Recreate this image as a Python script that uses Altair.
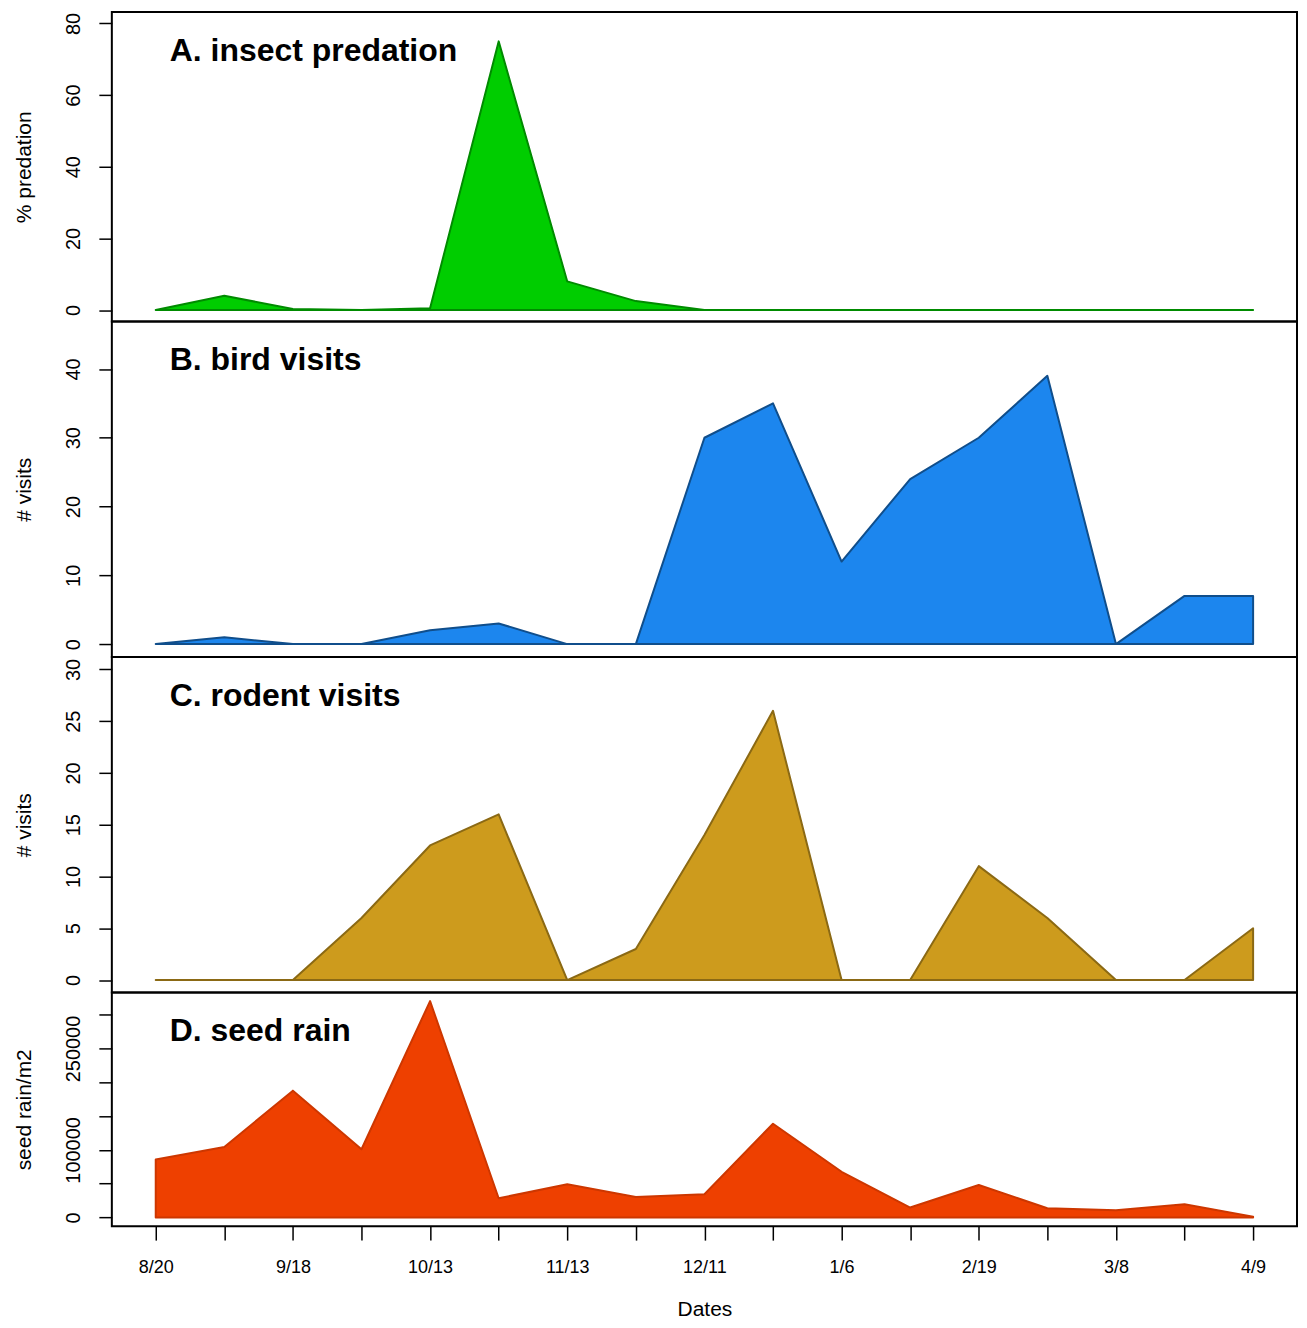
import altair as alt
import pandas as pd

# ---- data ----
idx = list(range(17))
date_labels = ["8/20", "", "9/18", "", "10/13", "", "11/13", "", "12/11", "",
               "1/6", "", "2/19", "", "3/8", "", "4/9"]

insect_predation = [0, 4, 0.3, 0, 0.5, 75, 8, 2.5, 0, 0, 0, 0, 0, 0, 0, 0, 0]
bird_visits = [0, 1, 0, 0, 2, 3, 0, 0, 30, 35, 12, 24, 30, 39, 0, 7, 7]
rodent_visits = [0, 0, 0, 6, 13, 16, 0, 3, 14, 26, 0, 0, 11, 6, 0, 0, 5]
seed_rain = [85700, 104400, 187600, 100900, 320000, 28400, 49000, 30300, 34300,
             138700, 67600, 14700, 48000, 13700, 10700, 19600, 1000]

titles = ["A. insect predation", "B. bird visits", "C. rodent visits", "D. seed rain"]
y_titles = ["% predation", "# visits", "# visits", "seed rain/m2"]
y_ticks = [[0, 20, 40, 60, 80], [0, 10, 20, 30, 40], [0, 5, 10, 15, 20, 25, 30],
           [0, 50000, 100000, 150000, 200000, 250000, 300000]]
seed_tick_labels_shown = [0, 100000, 250000]
y_domains = [[-3.2, 83.2], [-1.88, 46.9], [-1.2, 31.2], [-12800, 332800]]
fills = ["#00CD00", "#1C86EE", "#CD9B1D", "#EE4000"]
strokes = ["#008B00", "#104E8B", "#8B6914", "#CD3700"]
heights = [310, 336, 336, 234]
series = [insect_predation, bird_visits, rodent_visits, seed_rain]

FONT = "Liberation Sans"
W = 1187
xdom = [-0.64, 16.64]

label_arr = "[" + ",".join("'%s'" % s for s in date_labels) + "]"


def panel(k):
    df = pd.DataFrame({"i": idx, "v": series[k]})
    last = k == 3
    if last:
        xaxis = alt.Axis(values=idx, labelExpr=label_arr + "[datum.value]",
                         title="Dates", domain=False, grid=False,
                         tickSize=14, tickWidth=1.5, tickColor="black",
                         labelFontSize=18, labelColor="black", labelFont=FONT,
                         labelPadding=18, labelOverlap=False, labelFlush=False,
                         titleFontSize=21, titleFont=FONT, titleFontWeight="normal",
                         titleColor="black", titlePadding=23)
    else:
        xaxis = None
    yaxis_kwargs = dict(values=y_ticks[k], title=y_titles[k], domain=False, grid=False,
                        tickSize=13, tickWidth=1.5, tickColor="black",
                        labelFontSize=20, labelColor="black", labelFont=FONT,
                        labelAngle=270, labelAlign="center", labelBaseline="bottom",
                        labelPadding=15, labelOverlap=False, labelFlush=False,
                        minExtent=47, maxExtent=47,
                        titleFontSize=21, titleFont=FONT, titleFontWeight="normal",
                        titleColor="black", titlePadding=30, format="d")
    if k == 3:
        cond = " || ".join("datum.value == %d" % v for v in seed_tick_labels_shown)
        yaxis_kwargs["labelExpr"] = "(%s) ? datum.label : ''" % cond
    x = alt.X("i:Q", scale=alt.Scale(domain=xdom, nice=False, zero=False), axis=xaxis)
    y = alt.Y("v:Q", scale=alt.Scale(domain=y_domains[k], nice=False, zero=False),
              axis=alt.Axis(**yaxis_kwargs))
    area = alt.Chart(df).mark_area(color=fills[k], stroke=strokes[k], strokeWidth=2,
                                   opacity=1, strokeJoin="round", clip=True).encode(
        x=x, y=y, y2=alt.datum(0))
    ttl = alt.Chart(pd.DataFrame({"t": [titles[k]]})).mark_text(
        align="left", baseline="middle", font=FONT, fontSize=32, fontWeight="bold",
        color="black").encode(x=alt.value(58), y=alt.value(39), text="t:N")
    return alt.layer(area, ttl).properties(width=W, height=heights[k])


chart = alt.vconcat(*[panel(k) for k in range(4)], spacing=0, bounds="flush").properties(
    padding={"left": 5, "top": 2, "right": 1, "bottom": 0}
).configure(background="white").configure_view(stroke="black", strokeWidth=2)

chart.save("out.html", embed_options={"renderer": "svg", "actions": False})
